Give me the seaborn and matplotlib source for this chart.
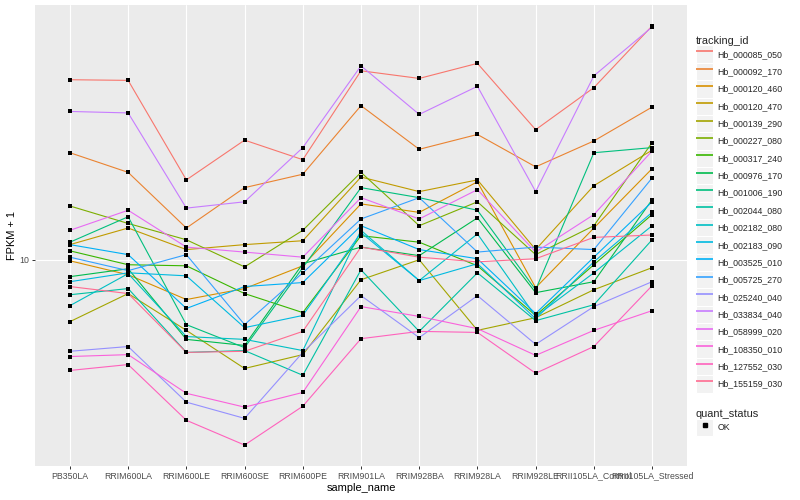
import matplotlib
matplotlib.use("Agg")
import matplotlib.pyplot as plt
from matplotlib.lines import Line2D
from matplotlib.patches import Rectangle
from matplotlib.legend_handler import HandlerLine2D
from matplotlib.ticker import FixedLocator, FixedFormatter, NullLocator
import numpy as np
import pandas as pd
import seaborn as sns

# ---------------- data ----------------
samples = ["PB350LA", "RRIM600LA", "RRIM600LE", "RRIM600SE", "RRIM600PE",
           "RRIM901LA", "RRIM928BA", "RRIM928LA", "RRIM928LE",
           "RRII105LA_Control", "RRII105LA_Stressed"]

tracking_ids = ["Hb_000085_050", "Hb_000092_170", "Hb_000120_460", "Hb_000120_470",
                "Hb_000139_290", "Hb_000227_080", "Hb_000317_240", "Hb_000976_170",
                "Hb_001006_190", "Hb_002044_080", "Hb_002182_080", "Hb_002183_090",
                "Hb_003525_010", "Hb_005725_270", "Hb_025240_040", "Hb_033834_040",
                "Hb_058999_020", "Hb_108350_010", "Hb_127552_030", "Hb_155159_030"]

hb_000085_050 = [20.0, 19.95, 13.6, 15.85, 14.7, 20.7, 20.1, 21.3, 16.5, 19.4, 24.6]
hb_000092_170 = [15.1, 14.0, 11.3, 13.2, 13.9, 18.1, 15.3, 16.2, 14.3, 15.8, 18.0]
hb_000120_460 = [9.96, 9.44, 8.58, 8.95, 9.77, 12.4, 12.0, 13.5, 8.98, 11.3, 14.2]
hb_000120_470 = [10.6, 11.3, 10.4, 10.6, 10.76, 13.75, 13.0, 13.6, 10.4, 13.3, 15.25]
hb_000139_290 = [7.88, 8.78, 7.62, 6.58, 6.94, 9.26, 10.0, 7.62, 8.00, 8.91, 9.70]
hb_000227_080 = [12.3, 11.5, 10.8, 9.73, 11.2, 14.0, 11.4, 12.5, 10.2, 11.4, 15.7]
hb_000317_240 = [10.35, 9.81, 9.77, 8.78, 8.16, 10.97, 10.7, 9.77, 8.07, 9.81, 11.9]
hb_000976_170 = [9.37, 9.66, 7.36, 7.19, 9.85, 10.5, 10.16, 11.75, 8.81, 9.19, 12.6]
hb_001006_190 = [10.7, 11.8, 7.79, 7.13, 9.70, 13.2, 12.7, 12.1, 8.91, 15.1, 15.4]
hb_002044_080 = [8.74, 8.95, 7.00, 7.05, 6.41, 9.62, 7.59, 9.51, 7.91, 8.41, 10.8]
hb_002182_080 = [8.38, 9.48, 7.44, 7.36, 7.05, 11.2, 9.23, 11.05, 8.04, 9.51, 11.4]
hb_002183_090 = [9.19, 9.51, 9.40, 7.70, 8.07, 11.1, 9.23, 9.85, 7.97, 9.92, 12.0]
hb_003525_010 = [10.6, 10.2, 8.29, 9.02, 9.16, 11.4, 10.4, 10.04, 8.13, 10.1, 12.5]
hb_005725_270 = [10.1, 9.59, 10.2, 7.79, 9.51, 11.7, 12.7, 10.3, 10.5, 10.4, 13.7]
hb_025240_040 = [7.03, 7.16, 5.78, 5.43, 7.00, 8.71, 7.41, 8.71, 7.22, 8.35, 9.19]
hb_033834_040 = [17.7, 17.6, 12.2, 12.5, 15.4, 21.1, 17.5, 19.5, 13.0, 20.3, 24.5]
hb_058999_020 = [11.2, 12.1, 10.5, 10.3, 10.1, 12.7, 11.7, 13.1, 10.3, 11.9, 15.2]
hb_108350_010 = [6.89, 6.94, 5.98, 5.67, 6.00, 8.35, 8.04, 7.67, 6.92, 7.62, 8.22]
hb_127552_030 = [6.53, 6.68, 5.39, 4.90, 5.69, 7.38, 7.59, 7.56, 6.46, 7.16, 9.05]
hb_155159_030 = [9.02, 8.78, 7.00, 7.03, 7.59, 10.5, 10.1, 9.92, 10.04, 10.9, 11.0]

series = [hb_000085_050, hb_000092_170, hb_000120_460, hb_000120_470, hb_000139_290,
          hb_000227_080, hb_000317_240, hb_000976_170, hb_001006_190, hb_002044_080,
          hb_002182_080, hb_002183_090, hb_003525_010, hb_005725_270, hb_025240_040,
          hb_033834_040, hb_058999_020, hb_108350_010, hb_127552_030, hb_155159_030]

quant_status = "OK"

# ggplot2 default hue palette for 20 levels
palette = ["#F8766D", "#EA8331", "#D89000", "#C09B00", "#A3A500", "#7CAE00", "#39B600",
           "#00BB4E", "#00BF7D", "#00C1A3", "#00BFC4", "#00BAE0", "#00B0F6", "#35A2FF",
           "#9590FF", "#C77CFF", "#E76BF3", "#FA62DB", "#FF62BC", "#FF6C91"]

rows = []
for tid, vals in zip(tracking_ids, series):
    for s, v in zip(samples, vals):
        rows.append({"tracking_id": tid, "sample_name": s, "FPKM + 1": v,
                     "quant_status": quant_status})
df = pd.DataFrame(rows)
df["sample_name"] = pd.Categorical(df["sample_name"], categories=samples, ordered=True)
df["x"] = df["sample_name"].cat.codes

# ---------------- style ----------------
sns.set_style("darkgrid", {"axes.facecolor": "#EBEBEB", "grid.color": "white"})
plt.rcParams["font.family"] = ["Liberation Sans", "DejaVu Sans"]

W, H = 800, 500
fig = plt.figure(figsize=(8, 5), dpi=100)
fig.patch.set_facecolor("white")
ax = fig.add_axes([35 / W, 1 - 466 / H, (687 - 35) / W, (466 - 5) / H])
ax.set_facecolor("#EBEBEB")

pal = dict(zip(tracking_ids, palette))
sns.lineplot(data=df, x="x", y="FPKM + 1", hue="tracking_id", hue_order=tracking_ids,
             palette=pal, estimator=None, sort=False, linewidth=0.8, legend=False,
             ax=ax, zorder=2)
sns.scatterplot(data=df, x="x", y="FPKM + 1", color="black", s=6, linewidth=0,
                marker="s", legend=False, ax=ax, zorder=3)

ax.set_yscale("log")
vals_all = df["FPKM + 1"].to_numpy()
lo, hi = np.log10(vals_all.min()), np.log10(vals_all.max())
r = hi - lo
ax.set_ylim(10 ** (lo - 0.05 * r), 10 ** (hi + 0.05 * r))
ax.yaxis.set_major_locator(FixedLocator([10]))
ax.yaxis.set_major_formatter(FixedFormatter(["10"]))
ax.yaxis.set_minor_locator(NullLocator())

ax.set_xlim(-0.6, len(samples) - 1 + 0.6)
ax.set_xticks(range(len(samples)))
ax.set_xticklabels(samples)
ax.xaxis.set_minor_locator(NullLocator())

ax.grid(True, which="major", color="white", linewidth=0.8)
ax.set_axisbelow(True)
for sp in ax.spines.values():
    sp.set_visible(False)

fs_tick = 6.35
fs_title = 7.95
ax.tick_params(axis="both", which="major", length=2.2, width=0.7, color="#333333",
               labelcolor="#4D4D4D", labelsize=fs_tick, pad=1.8, direction="out")
ax.tick_params(axis="both", which="both", bottom=True, left=True)
ax.set_xlabel("sample_name", fontsize=fs_title, color="black", labelpad=2)
ax.set_ylabel("FPKM + 1", fontsize=fs_title, color="black", labelpad=1.5)


# ---------------- legends ----------------
class KeyHandler(HandlerLine2D):
    def create_artists(self, legend, orig_handle, xdescent, ydescent, width, height,
                       fontsize, trans):
        rect = Rectangle((-xdescent, -ydescent), width, height, facecolor="#F2F2F2",
                         edgecolor="white", linewidth=0.8, transform=trans, zorder=0)
        arts = super().create_artists(legend, orig_handle, xdescent, ydescent,
                                      width, height, fontsize, trans)
        for a in arts:
            a.set_zorder(2)
        return [rect] + list(arts)


line_handles = [Line2D([], [], color=c, linewidth=1.2, solid_capstyle="butt")
                for c in palette]
leg1 = fig.legend(line_handles, tracking_ids, title="tracking_id",
                  loc="upper left", bbox_to_anchor=(696 / W, 1 - 35.5 / H),
                  frameon=False, fontsize=fs_tick, title_fontsize=fs_title,
                  handlelength=1.95, handleheight=2.65, labelspacing=0.0,
                  handletextpad=0.45, borderpad=0.0, borderaxespad=0.0,
                  alignment="left", handler_map={Line2D: KeyHandler()})

pt_handle = Line2D([], [], color="black", linestyle="none", marker="s", markersize=2.4)
leg2 = fig.legend([pt_handle], [quant_status], title="quant_status",
                  loc="upper left", bbox_to_anchor=(696 / W, 1 - 409 / H),
                  frameon=False, fontsize=fs_tick, title_fontsize=fs_title,
                  handlelength=1.95, handleheight=2.65, labelspacing=0.0,
                  handletextpad=0.45, borderpad=0.0, borderaxespad=0.0,
                  alignment="left", numpoints=1,
                  handler_map={Line2D: KeyHandler(numpoints=1)})

fig.savefig("out.png", dpi=100, facecolor="white")
